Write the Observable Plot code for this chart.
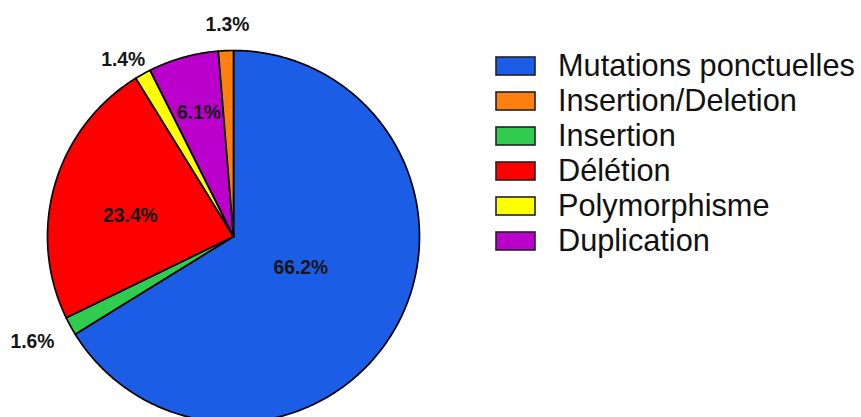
<!DOCTYPE html>
<html><head><meta charset="utf-8">
<script src="https://cdn.jsdelivr.net/npm/d3@7"></script>
<script src="https://cdn.jsdelivr.net/npm/@observablehq/plot@0.6"></script>
<style>
body{margin:0;background:#fff;}
#wrap{position:relative;width:861px;height:417px;overflow:hidden;background:#fff;}
#chart{position:absolute;left:0;top:0;}
#legend{position:absolute;left:496px;top:48px;}
.lg-swatches{font-family:"Liberation Sans",Arial,sans-serif !important;font-size:30.7px !important;margin:0 !important;color:#111;}
.lg-swatch{height:35px !important;padding:0 !important;display:flex !important;align-items:center !important;}
.lg-swatch > svg{margin-right:23px !important;overflow:visible !important;}
.lg-swatch svg rect{stroke:#222;stroke-width:1.6px;}
</style></head><body><div id="wrap"><div id="chart"></div><div id="legend"></div></div>
<script>
// Data
const categories = ["Mutations ponctuelles","Insertion/Deletion","Insertion","Délétion","Polymorphisme","Duplication"];
const percents = [66.2, 1.3, 1.6, 23.4, 1.4, 6.1];
const sliceOrder = ["Mutations ponctuelles","Insertion","Délétion","Polymorphisme","Duplication","Insertion/Deletion"];
const colors = ["#1b5de4","#ff7f10","#2fcc50","#ff0000","#ffff00","#bb00cc"];

// Layout
const W = 861, H = 417, cx = 233, cy = 236, R = 186;
// label placement: [angle offset in degrees, radius factor]
const labelPlace = {
  "Mutations ponctuelles": [-4, 0.40],
  "Insertion/Deletion": [0.7, 1.14],
  "Insertion": [1.2, 1.22],
  "Délétion": [-5, 0.565],
  "Polymorphisme": [-2.8, 1.12],
  "Duplication": [0, 0.69]
};

const value = new Map(categories.map((c, i) => [c, percents[i]]));
const total = d3.sum(percents);
const pts = [], labelData = [];
let acc = 0;
for (const c of sliceOrder) {
  const v = value.get(c);
  const a0 = acc / total * 2 * Math.PI, a1 = (acc + v) / total * 2 * Math.PI;
  acc += v;
  pts.push({cat: c, x: 0, y: 0});
  const n = Math.max(2, Math.ceil((a1 - a0) / (Math.PI / 360)));
  for (let k = 0; k <= n; k++) {
    const a = a0 + (a1 - a0) * k / n;
    pts.push({cat: c, x: Math.sin(a), y: Math.cos(a)});
  }
  pts.push({cat: c, x: 0, y: 0});
  const [off, f] = labelPlace[c];
  const am = (a0 + a1) / 2 + off * Math.PI / 180;
  labelData.push({text: v.toFixed(1) + "%", x: f * Math.sin(am), y: f * Math.cos(am)});
}

const plot = Plot.plot({
  width: W, height: H,
  margin: 0,
  x: {domain: [-cx / R, (W - cx) / R], axis: null},
  y: {domain: [-(H - cy) / R, cy / R], axis: null},
  color: {domain: categories, range: colors},
  style: {fontFamily: "Liberation Sans, Arial, sans-serif", background: "transparent"},
  marks: [
    Plot.line(pts, {x: "x", y: "y", z: "cat", fill: "cat", stroke: "#000", strokeWidth: 1.7, strokeLinejoin: "round", curve: "linear"}),
    Plot.text(labelData, {x: "x", y: "y", text: "text", fontWeight: "bold", fontSize: 19.3, fill: "#151515"})
  ]
});
document.getElementById("chart").appendChild(plot);
const legend = plot.legend("color", {columns: 1, swatchWidth: 39, swatchHeight: 18, className: "lg"});
document.getElementById("legend").appendChild(legend);
</script></body></html>
